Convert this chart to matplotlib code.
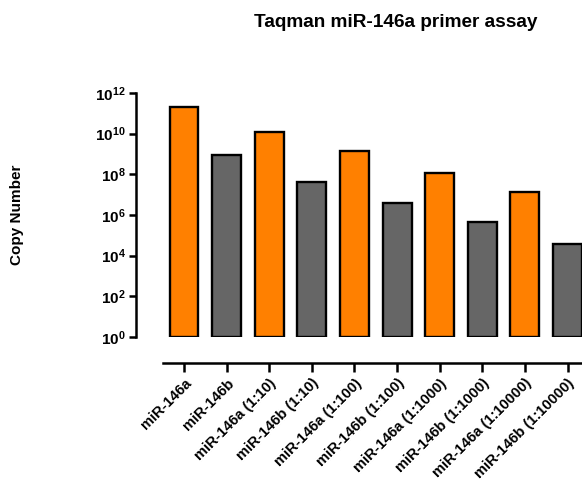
import math
import matplotlib
matplotlib.use("Agg")
import matplotlib.pyplot as plt
from matplotlib.ticker import FixedLocator, FuncFormatter, NullLocator

plt.rcParams["font.family"] = ["Liberation Sans", "DejaVu Sans"]
plt.rcParams["font.weight"] = "bold"
plt.rcParams["mathtext.fontset"] = "custom"
plt.rcParams["mathtext.rm"] = "Liberation Sans:bold"
plt.rcParams["mathtext.bf"] = "Liberation Sans:bold"
plt.rcParams["mathtext.it"] = "Liberation Sans:bold"

# Samples and measured copy numbers
categories = [
    "miR-146a", "miR-146b",
    "miR-146a (1:10)", "miR-146b (1:10)",
    "miR-146a (1:100)", "miR-146b (1:100)",
    "miR-146a (1:1000)", "miR-146b (1:1000)",
    "miR-146a (1:10000)", "miR-146b (1:10000)",
]
copy_numbers = [2.0e11, 9.0e8, 1.2e10, 4.2e7, 1.4e9, 3.9e6, 1.2e8, 4.5e5, 1.35e7, 3.7e4]
bar_colors = ["#FF8000", "#666666"] * 5
y_exponents = [0, 2, 4, 6, 8, 10, 12]

W, H = 582, 482
fig = plt.figure(figsize=(W / 100, H / 100), dpi=100)

# axes box in pixel coordinates
left_px, right_px = 162.7, 582.0
top_px, bottom_px = 93.0, 337.0
ax = fig.add_axes([left_px / W, 1 - bottom_px / H,
                   (right_px - left_px) / W, (bottom_px - top_px) / H])

x = list(range(len(categories)))
ax.bar(x, copy_numbers, width=0.68, color=bar_colors, edgecolor="black",
       linewidth=1.7, bottom=1, zorder=3)

ax.set_yscale("log")
ax.set_ylim(1, 1e12)
ax.set_xlim(-0.5, 9.34)

ax.yaxis.set_major_locator(FixedLocator([10.0 ** e for e in y_exponents]))
ax.yaxis.set_minor_locator(NullLocator())
ax.yaxis.set_major_formatter(FuncFormatter(
    lambda v, p: r"$\mathbf{10^{%d}}$" % round(math.log10(v))))

for s in ("top", "right"):
    ax.spines[s].set_visible(False)
ax.spines["left"].set_position(("outward", 19.5))
ax.spines["bottom"].set_position(("outward", 18.7))
ax.spines["left"].set_linewidth(1.8)
ax.spines["bottom"].set_linewidth(1.8)

ax.tick_params(axis="y", direction="out", length=5, width=1.8,
               labelsize=11, pad=2)
ax.tick_params(axis="x", direction="out", length=6.5, width=1.8,
               labelsize=10.6, pad=3)

ax.set_xticks(x)
ax.set_xticklabels(categories)
for lbl in ax.get_xticklabels():
    lbl.set_rotation(45)
    lbl.set_rotation_mode("anchor")
    lbl.set_ha("right")
    lbl.set_va("top")
    lbl.set_fontweight("bold")

fig.text(396 / W, 1 - 27 / H, "Taqman miR-146a primer assay",
         ha="center", va="baseline", fontsize=13.7, fontweight="bold")
fig.text(17.5 / W, 1 - 215 / H, "Copy Number", rotation=90,
         ha="center", va="center", fontsize=11, fontweight="bold")

fig.savefig("out.png", dpi=100)
